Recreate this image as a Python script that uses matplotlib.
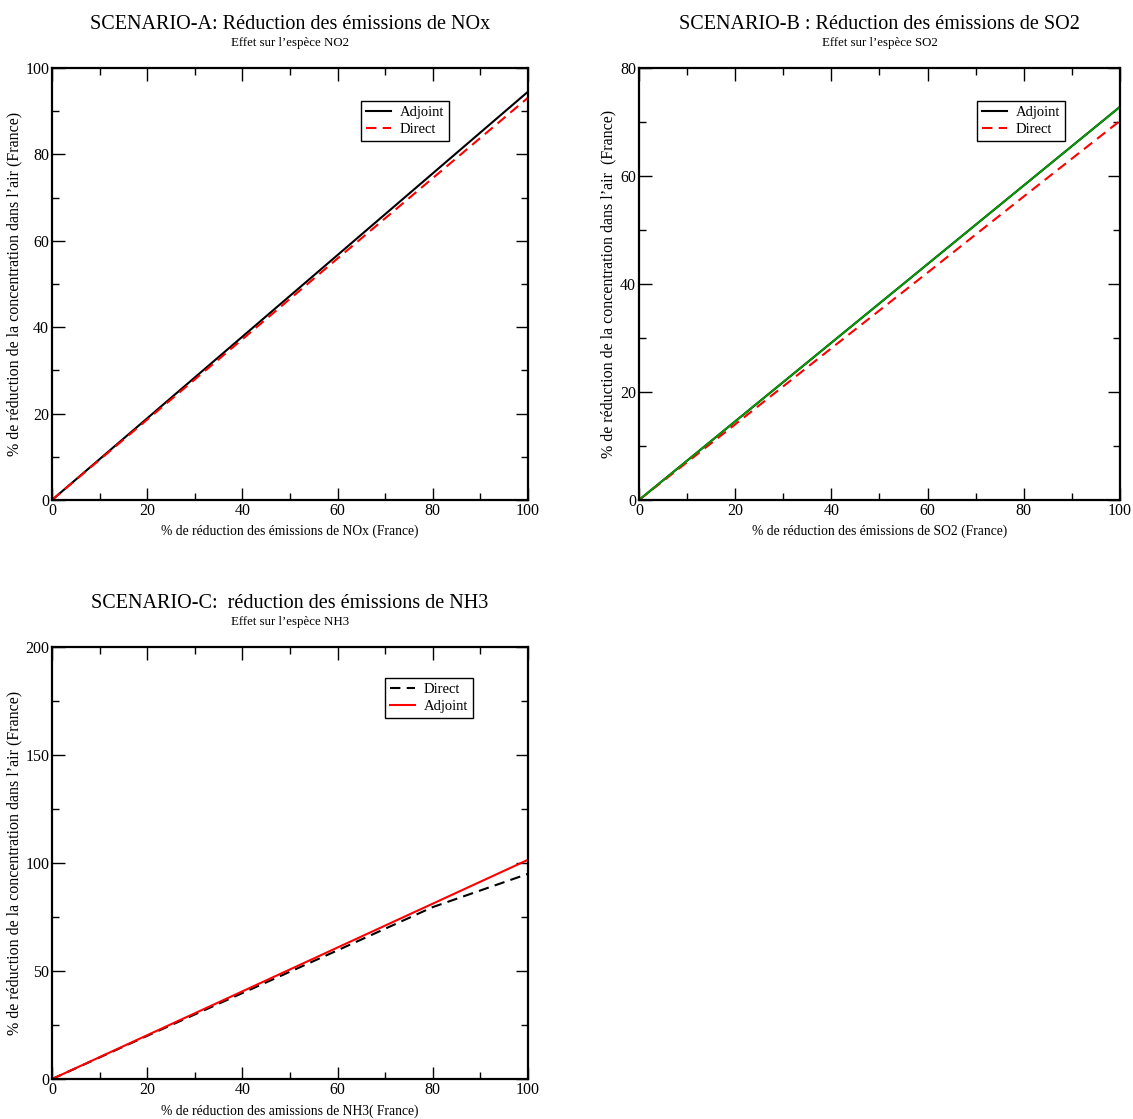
import matplotlib
matplotlib.use('Agg')
import matplotlib.pyplot as plt
from matplotlib.ticker import MultipleLocator

plt.rcParams['font.family'] = ['Liberation Serif', 'DejaVu Serif']

# Scenario A (NOx -> NO2)
x_a = [0, 20, 40, 60, 80, 100]
adjoint_a = [0, 18.9, 37.8, 56.7, 75.6, 94.5]
direct_a = [0, 18.6, 37.2, 55.9, 74.5, 93.1]

# Scenario B (SO2 -> SO2)
x_b = [0, 20, 40, 60, 80, 100]
adjoint_b = [0, 14.56, 29.12, 43.68, 58.24, 72.8]
direct_b = [0, 14.0, 28.1, 42.1, 56.2, 70.2]

# Scenario C (NH3 -> NH3)
x_c = [0, 20, 40, 60, 80, 100]
direct_c = [0, 20.0, 39.8, 59.6, 79.6, 95.0]
adjoint_c = [0, 20.3, 40.6, 60.9, 81.2, 101.5]

DASH = (0, (5, 3))


def style_axes(ax, ymax, ymajor, yminor):
    ax.set_xlim(0, 100)
    ax.set_ylim(0, ymax)
    ax.xaxis.set_major_locator(MultipleLocator(20))
    ax.xaxis.set_minor_locator(MultipleLocator(10))
    ax.yaxis.set_major_locator(MultipleLocator(ymajor))
    ax.yaxis.set_minor_locator(MultipleLocator(yminor))
    ax.tick_params(which='both', direction='in', top=True, right=True,
                   width=1.0, labelsize=11.5, pad=2)
    ax.tick_params(which='major', length=9)
    ax.tick_params(which='minor', length=5)
    for sp in ax.spines.values():
        sp.set_linewidth(1.6)


def titles(ax, main, sub):
    ax.text(0.5, 1.09, main, transform=ax.transAxes, ha='center',
            va='baseline', fontsize=14.5)
    ax.text(0.5, 1.05, sub, transform=ax.transAxes, ha='center',
            va='baseline', fontsize=9.3)


def add_legend(ax, x0, y0):
    leg = ax.legend(loc='upper left', bbox_to_anchor=(x0, y0), fontsize=10.5,
                    fancybox=False, framealpha=1, edgecolor='black',
                    handlelength=1.7, handletextpad=0.6, borderpad=0.35,
                    labelspacing=0.25, borderaxespad=0)
    leg.get_frame().set_linewidth(1.0)


fig = plt.figure(figsize=(11.33, 11.19), dpi=100)

ylab = "% de réduction de la concentration dans l\u2019air (France)"

# --- A ---
ax = fig.add_axes([0.0459, 0.5532, 0.4201, 0.3861])
ax.plot(x_a, adjoint_a, color='black', lw=1.5, label='Adjoint')
ax.plot(x_a, direct_a, color='red', lw=1.5, ls=DASH, label='Direct')
style_axes(ax, 100, 20, 10)
titles(ax, "SCENARIO-A: Réduction des émissions de NOx", "Effet sur l\u2019espèce NO2")
ax.set_xlabel("% de réduction des émissions de NOx (France)", fontsize=9.8, labelpad=4.5)
ax.set_ylabel(ylab, fontsize=11.5)
ax.yaxis.set_label_coords(-0.063, 0.5)
add_legend(ax, 0.649, 0.924)

# --- B ---
ax = fig.add_axes([0.564, 0.5532, 0.4245, 0.3861])
ax.plot(x_b, adjoint_b, color='black', lw=1.5, label='Adjoint')
ax.plot(x_b, direct_b, color='red', lw=1.5, ls=DASH, label='Direct')
ax.plot(x_b, adjoint_b, color='#00a000', lw=1.3)
style_axes(ax, 80, 20, 10)
titles(ax, "SCENARIO-B : Réduction des émissions de SO2", "Effet sur l\u2019espèce SO2")
ax.set_xlabel("% de réduction des émissions de SO2 (France)", fontsize=9.8, labelpad=4.5)
ax.set_ylabel("% de réduction de la concentration dans l\u2019air  (France)", fontsize=11.5)
ax.yaxis.set_label_coords(-0.048, 0.5)
add_legend(ax, 0.703, 0.924)

# --- C ---
ax = fig.add_axes([0.0459, 0.0357, 0.4201, 0.3861])
ax.plot(x_c, direct_c, color='black', lw=1.5, ls=DASH, label='Direct')
ax.plot(x_c, adjoint_c, color='red', lw=1.5, label='Adjoint')
style_axes(ax, 200, 50, 25)
titles(ax, "SCENARIO-C:  réduction des émissions de NH3", "Effet sur l\u2019espèce NH3")
ax.set_xlabel("% de réduction des amissions de NH3( France)", fontsize=9.8, labelpad=4.5)
ax.set_ylabel(ylab, fontsize=11.5)
ax.yaxis.set_label_coords(-0.063, 0.5)
add_legend(ax, 0.70, 0.928)

fig.savefig('out.png', dpi=100)
